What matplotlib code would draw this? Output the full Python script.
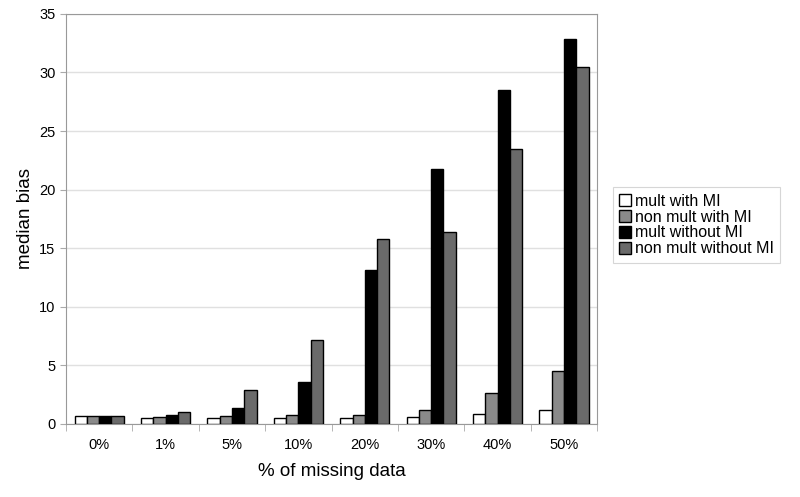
import numpy as np
from matplotlib import pyplot as plt

plt.rcParams['font.family'] = ['Liberation Sans', 'DejaVu Sans']

categories = ["0%", "1%", "5%", "10%", "20%", "30%", "40%", "50%"]
mult_with_mi = [0.65, 0.5, 0.5, 0.5, 0.5, 0.6, 0.85, 1.15]
non_mult_with_mi = [0.65, 0.6, 0.7, 0.75, 0.8, 1.2, 2.6, 4.5]
mult_without_mi = [0.65, 0.75, 1.4, 3.6, 13.1, 21.8, 28.5, 32.9]
non_mult_without_mi = [0.65, 1.0, 2.9, 7.2, 15.8, 16.4, 23.5, 30.5]

series = [
    ("mult with MI", mult_with_mi, "white"),
    ("non mult with MI", non_mult_with_mi, "#8a8a8a"),
    ("mult without MI", mult_without_mi, "black"),
    ("non mult without MI", non_mult_without_mi, "#6a6a6a"),
]

fig = plt.figure(figsize=(8, 4.97), dpi=100)
ax = fig.add_axes([0.0825, 0.147, 0.664, 0.825])

x = np.arange(len(categories))
w = 0.185
for i, (name, vals, col) in enumerate(series):
    ax.bar(x + (i - 1.5) * w, vals, w, color=col, edgecolor="black",
           linewidth=1.0, label=name, zorder=3)

ax.set_xlim(-0.5, len(categories) - 0.5)
ax.set_ylim(0, 35)
ax.set_yticks(range(0, 36, 5))
ax.set_xticks(x)
ax.set_xticklabels(categories, fontsize=10.5)
ax.tick_params(axis='x', length=0, pad=10)
ax.set_xticks(np.arange(-0.5, len(categories), 1), minor=True)
ax.tick_params(axis='x', which='minor', length=5, color="#aaaaaa")
ax.tick_params(axis='y', labelsize=10.5, length=4, color="#aaaaaa")
ax.grid(axis='y', color="#e0e0e0", linewidth=1, zorder=0)
for s in ax.spines.values():
    s.set_color("#999999")
ax.set_xlabel("% of missing data", fontsize=13.5, labelpad=8)
ax.set_ylabel("median bias", fontsize=13.5)

leg = ax.legend(loc="center left", bbox_to_anchor=(1.02, 0.485), fontsize=11.5,
                frameon=True, fancybox=False, edgecolor="#cccccc",
                handlelength=0.75, handleheight=0.75, handletextpad=0.25,
                borderpad=0.4, labelspacing=0.05, borderaxespad=0.3)
leg.get_frame().set_linewidth(0.8)

plt.savefig("out.png", dpi=100)
